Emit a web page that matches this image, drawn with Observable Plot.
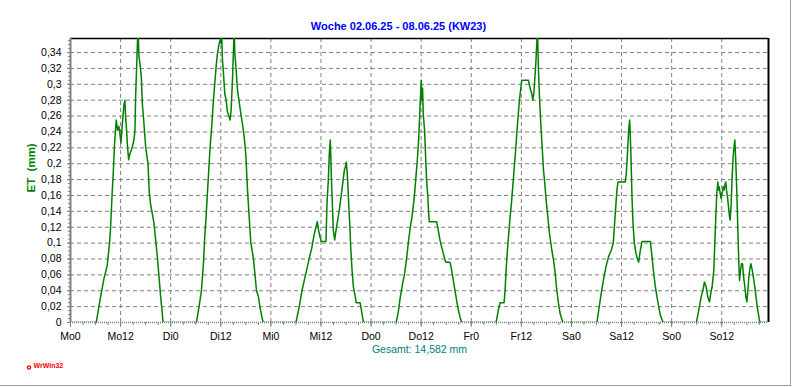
<!DOCTYPE html>
<html><head><meta charset="utf-8">
<script src="https://cdn.jsdelivr.net/npm/d3@7"></script>
<script src="https://cdn.jsdelivr.net/npm/@observablehq/plot@0.6"></script>
<style>
html,body{margin:0;padding:0;background:#fff;}
#wrap{position:relative;width:792px;height:387px;overflow:hidden;}
#edge{position:absolute;left:0;top:0;width:790px;height:385px;border-right:1px solid #a0a0a0;border-bottom:1px solid #a0a0a0;pointer-events:none;}
</style></head><body><div id="wrap"><div id="edge"></div></div>
<script>
const title = "Woche 02.06.25 - 08.06.25 (KW23)";
const yLabel = "ET  (mm)";
const totalLabel = "Gesamt: 14,582 mm";
const logoLabel = "WrWin32";
const dayNames = ["Mo","Di","Mi","Do","Fr","Sa","So"];
const xTickHours = [0,12,24,36,48,60,72,84,96,108,120,132,144,156];
const yTicks = [0,0.02,0.04,0.06,0.08,0.1,0.12,0.14,0.16,0.18,0.2,0.22,0.24,0.26,0.28,0.3,0.32,0.34];
const xMax = 167.2, yMax = 0.3577;

// [hour of week, ET mm]
const mo = [[0,0],[6.16,0],[7.2,0.032],[8.0,0.055],[8.8,0.072],[9.36,0.10],[9.6,0.12],[10.0,0.165],[10.24,0.188],[10.56,0.226],[10.96,0.255],[11.28,0.242],[11.6,0.247],[11.92,0.234],[12.08,0.226],[12.4,0.249],[12.8,0.274],[13.04,0.28],[13.2,0.259],[13.44,0.242],[13.6,0.226],[13.92,0.205],[14.16,0.211],[14.8,0.221],[15.2,0.23],[15.44,0.242],[15.6,0.284],[15.84,0.322],[16.0,0.347],[16.16,0.37],[16.4,0.335],[16.64,0.326],[16.96,0.31],[17.2,0.276],[17.6,0.25],[18.0,0.221],[18.56,0.2],[18.88,0.163],[19.2,0.148],[19.6,0.137],[20.0,0.125],[20.4,0.104],[20.8,0.083],[21.2,0.058],[21.6,0.032],[22.0,0.011],[22.16,0]];
const di = [[30.16,0],[30.8,0.02],[31.36,0.04],[31.84,0.074],[32.16,0.108],[32.48,0.133],[32.8,0.163],[33.12,0.192],[33.44,0.221],[33.76,0.242],[34.24,0.28],[34.56,0.301],[34.88,0.322],[35.2,0.339],[35.52,0.349],[35.84,0.356],[36.0,0.352],[36.16,0.37],[36.4,0.331],[36.64,0.314],[36.96,0.288],[37.28,0.28],[37.6,0.265],[38.0,0.259],[38.24,0.255],[38.48,0.268],[38.8,0.306],[39.04,0.343],[39.2,0.37],[39.36,0.339],[39.68,0.318],[40.0,0.293],[40.4,0.278],[40.8,0.263],[41.2,0.25],[41.6,0.234],[42.0,0.211],[42.4,0.167],[42.8,0.133],[43.2,0.10],[43.76,0.083],[44.16,0.062],[44.56,0.04],[45.04,0.032],[45.36,0.02],[45.84,0.007],[46.16,0]];
const mi = [[54.0,0],[54.8,0.02],[55.44,0.04],[56.0,0.053],[56.56,0.066],[57.2,0.081],[57.84,0.095],[58.4,0.112],[58.8,0.12],[59.12,0.127],[59.44,0.116],[59.76,0.108],[60.08,0.102],[61.2,0.102],[61.44,0.15],[61.76,0.179],[62.0,0.213],[62.24,0.23],[62.48,0.184],[62.72,0.15],[62.96,0.116],[63.28,0.104],[63.6,0.116],[64.0,0.129],[64.4,0.142],[64.8,0.158],[65.2,0.175],[65.6,0.192],[65.84,0.196],[66.08,0.202],[66.4,0.179],[66.64,0.15],[66.88,0.125],[67.12,0.095],[67.44,0.066],[67.76,0.045],[68.24,0.032],[68.4,0.025],[69.36,0.025],[69.68,0.016],[70.16,0]];
const don = [[78.04,0],[78.6,0.016],[79.0,0.032],[79.56,0.049],[80.04,0.062],[80.52,0.081],[81.0,0.104],[81.4,0.12],[81.8,0.133],[82.36,0.158],[82.76,0.184],[83.08,0.205],[83.4,0.23],[83.7,0.268],[84.02,0.305],[84.18,0.28],[84.34,0.295],[84.5,0.263],[84.82,0.242],[85.06,0.209],[85.3,0.179],[85.54,0.163],[85.78,0.139],[85.94,0.127],[87.7,0.127],[88.1,0.116],[88.5,0.104],[88.9,0.095],[89.3,0.087],[89.86,0.076],[90.9,0.076],[91.3,0.066],[91.7,0.053],[92.1,0.04],[92.5,0.028],[92.9,0.016],[93.3,0.007],[93.7,0]];
const fr = [[101.94,0],[102.5,0.016],[102.9,0.025],[103.86,0.025],[104.1,0.04],[104.34,0.066],[104.66,0.091],[104.98,0.112],[105.3,0.133],[105.62,0.15],[105.94,0.171],[106.26,0.192],[106.58,0.213],[106.9,0.238],[107.22,0.259],[107.54,0.28],[107.86,0.295],[108.1,0.305],[109.7,0.305],[110.1,0.295],[110.5,0.288],[110.74,0.28],[110.98,0.288],[111.22,0.307],[111.46,0.326],[111.7,0.352],[111.86,0.37],[112.1,0.318],[112.34,0.284],[112.66,0.25],[112.98,0.221],[113.3,0.192],[113.62,0.175],[113.94,0.154],[114.34,0.133],[114.74,0.112],[115.3,0.091],[115.7,0.079],[116.1,0.062],[116.5,0.04],[116.9,0.024],[117.3,0.011],[117.94,0]];
const sa = [[126.1,0],[126.66,0.02],[127.14,0.037],[127.7,0.055],[128.26,0.07],[128.9,0.083],[129.54,0.091],[130.02,0.10],[130.34,0.125],[130.66,0.15],[130.9,0.167],[131.14,0.177],[132.9,0.177],[133.14,0.188],[133.38,0.209],[133.62,0.234],[133.78,0.247],[133.94,0.255],[134.1,0.234],[134.26,0.209],[134.5,0.158],[134.74,0.125],[135.06,0.10],[135.46,0.087],[135.86,0.079],[136.1,0.076],[136.5,0.091],[136.9,0.102],[138.9,0.102],[139.3,0.083],[139.7,0.062],[140.1,0.045],[140.5,0.032],[140.9,0.02],[141.3,0.009],[141.94,0]];
const so = [[149.94,0],[150.5,0.016],[151.06,0.032],[151.46,0.04],[151.86,0.051],[152.26,0.045],[152.66,0.032],[153.06,0.026],[153.38,0.037],[153.7,0.045],[154.1,0.066],[154.34,0.10],[154.58,0.133],[154.82,0.163],[155.06,0.177],[155.22,0.167],[155.38,0.171],[155.62,0.163],[155.86,0.156],[156.1,0.163],[156.34,0.171],[156.58,0.167],[156.82,0.175],[156.98,0.177],[157.14,0.167],[157.38,0.158],[157.62,0.146],[157.86,0.133],[158.02,0.129],[158.26,0.15],[158.5,0.184],[158.74,0.209],[158.9,0.219],[159.14,0.23],[159.38,0.2],[159.62,0.163],[159.86,0.116],[160.1,0.074],[160.26,0.053],[160.5,0.066],[160.74,0.074],[160.98,0.074],[161.22,0.058],[161.54,0.045],[161.78,0.032],[162.02,0.026],[162.26,0.04],[162.5,0.058],[162.74,0.068],[162.98,0.074],[163.3,0.066],[163.7,0.053],[164.1,0.037],[164.5,0.02],[164.9,0.007],[165.14,0],[167.2,0]];

const series = [...mo, ...di, ...mi, ...don, ...fr, ...sa, ...so].map(([h, v]) => ({h, v}));
const fmtY = d => String(+d.toFixed(2)).replace(".", ",");
const fmtX = d => dayNames[Math.floor(d / 24)] + (d % 24);
const minorX = d3.range(0, xMax, 3);
const minorY = d3.range(0, yMax, 0.005);
const font = "'Liberation Sans', Arial, sans-serif";

const chart = Plot.plot({
  width: 792, height: 387,
  marginLeft: 70, marginRight: 24, marginTop: 38, marginBottom: 65,
  style: {fontFamily: font, fontSize: "10.5px", background: "transparent", color: "black", overflow: "visible"},
  x: {domain: [0, xMax], axis: null},
  y: {domain: [0, yMax], axis: null},
  marks: [
    Plot.ruleY(yTicks.filter(d => d > 0), {stroke: "#808080", strokeDasharray: "4,3", strokeWidth: 1}),
    Plot.ruleX(xTickHours.filter(d => d > 0), {stroke: "#808080", strokeDasharray: "4,3", strokeWidth: 1}),
    Plot.ruleY([yMax], {stroke: "black", strokeWidth: 1.5}),
    Plot.ruleX([xMax], {stroke: "black", strokeWidth: 2}),
    Plot.ruleX([0], {stroke: "#808080", strokeWidth: 2}),
    Plot.ruleY([0], {stroke: "#808080", strokeWidth: 1.5, strokeDasharray: "1,1"}),
    Plot.axisY(minorY, {tickSize: 2, tickFormat: () => "", stroke: "#808080", label: null}),
    Plot.axisY(yTicks, {tickSize: 3, tickPadding: 6, tickFormat: fmtY, stroke: "#808080", fill: "black", fontSize: 10.5, label: null}),
    Plot.axisX(minorX, {tickSize: 3, tickFormat: () => "", stroke: "#808080", label: null}),
    Plot.axisX(xTickHours, {tickSize: 5, tickPadding: 5, tickFormat: fmtX, stroke: "#808080", fill: "black", fontSize: 10.5, label: null}),
    Plot.line(series, {x: "h", y: "v", stroke: "#008000", strokeWidth: 1.5, clip: true}),
    Plot.text([title], {frameAnchor: "top", dx: -21, dy: -16, fill: "#0000ff", fontWeight: "bold", fontSize: 11}),
    Plot.text([yLabel], {frameAnchor: "left", dx: -39, dy: 12, rotate: -90, fill: "#008000", fontWeight: "bold", fontSize: 11.5}),
    Plot.text([totalLabel], {frameAnchor: "bottom", dy: 30, fill: "#008080", fontSize: 10.5}),
    Plot.dot([logoLabel], {frameAnchor: "bottom-left", dx: -41.5, dy: 45, r: 1.6, stroke: "#ff0000", strokeWidth: 1.4, fill: "white"}),
    Plot.text([logoLabel], {frameAnchor: "bottom-left", dx: -37, dy: 45, textAnchor: "start", fill: "#ff0000", fontWeight: "bold", fontSize: 7})
  ]
});
document.getElementById("wrap").prepend(chart);
</script>
</body></html>
